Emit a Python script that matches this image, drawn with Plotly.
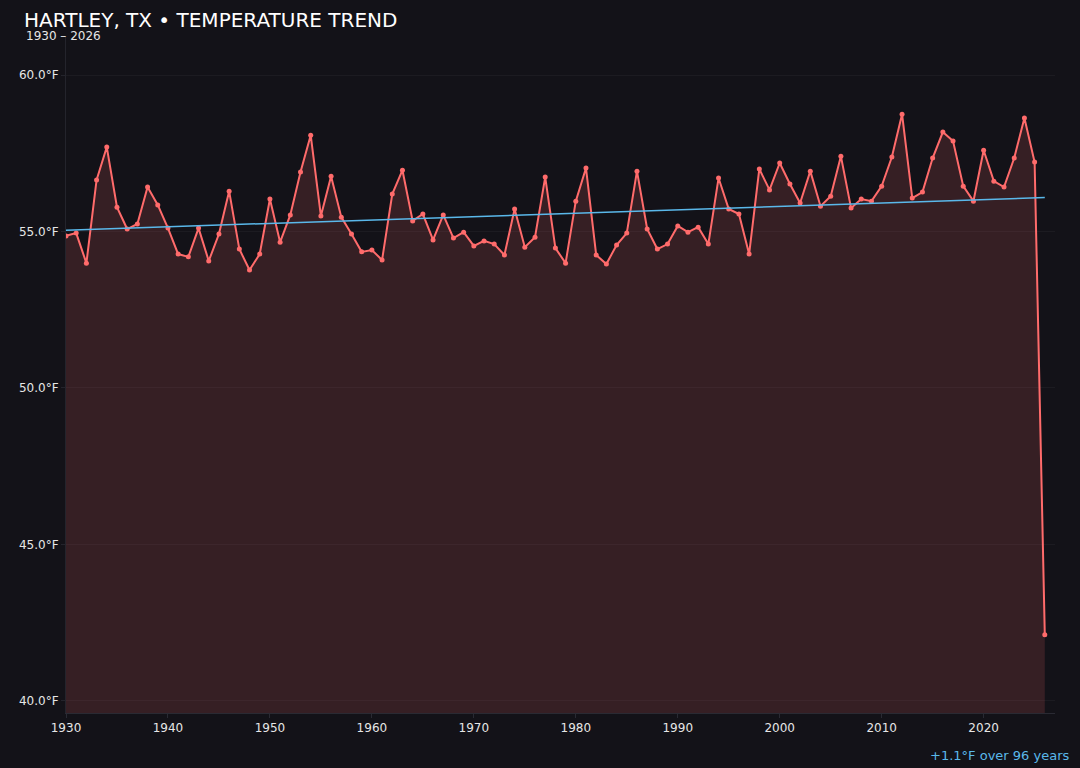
#!/usr/bin/python
#coding = utf-8

import numpy as np
import plotly.graph_objects as go

# annual mean temperature, Hartley TX (2026 is a partial year)
years = list(range(1930, 2027))
temps = [
    54.86, 54.95, 53.99, 56.65, 57.70, 55.78, 55.08, 55.24, 56.42, 55.85,
    55.11, 54.28, 54.19, 55.11, 54.06, 54.92, 56.29, 54.44, 53.77, 54.28,
    56.04, 54.66, 55.53, 56.90, 58.08, 55.50, 56.77, 55.46, 54.92, 54.35,
    54.41, 54.09, 56.20, 56.96, 55.34, 55.56, 54.73, 55.53, 54.79, 54.98,
    54.54, 54.70, 54.60, 54.25, 55.72, 54.50, 54.82, 56.74, 54.47, 53.99,
    55.97, 57.03, 54.25, 53.96, 54.57, 54.95, 56.93, 55.08, 54.44, 54.60,
    55.18, 54.98, 55.14, 54.60, 56.71, 55.72, 55.56, 54.28, 57.00, 56.33,
    57.19, 56.52, 55.91, 56.93, 55.81, 56.13, 57.41, 55.75, 56.04, 55.97,
    56.45, 57.38, 58.75, 56.07, 56.26, 57.35, 58.18, 57.89, 56.45, 55.97,
    57.60, 56.61, 56.42, 57.35, 58.63, 57.22, 42.11,
]
yTicks = [40, 45, 50, 55, 60]
xTicks = list(range(1930, 2030, 10))
trendLabel = '+1.1°F over 96 years'

# trend line from a linear fit
slope, icpt = np.polyfit(years, temps, 1)
trendX = [years[0], years[-1]]
trendY = [slope * x + icpt for x in trendX]

bg = '#131218'
fig = go.Figure()
fig.add_trace(go.Scatter(
    x=years, y=temps, mode='lines+markers', fill='tozeroy',
    fillcolor='rgba(255,107,107,0.15)',
    line=dict(color='#ff6b6b', width=2),
    marker=dict(size=5, color='#ff6b6b'),
    hoverinfo='skip', showlegend=False,
))
fig.add_trace(go.Scatter(
    x=trendX, y=trendY, mode='lines',
    line=dict(color='#5ab8ea', width=1.5),
    hoverinfo='skip', showlegend=False,
))
fig.update_layout(
    width=1080, height=768,
    paper_bgcolor=bg, plot_bgcolor=bg,
    font=dict(family='DejaVu Sans', color='#e6e6e6', size=12),
    margin=dict(l=66, r=25, t=36, b=55),
    title=dict(
        text='HARTLEY, TX • TEMPERATURE TREND',
        x=24 / 1080, xanchor='left', xref='container',
        y=1 - 20 / 768, yanchor='middle', yref='container',
        font=dict(size=20, color='#ffffff'),
    ),
    xaxis=dict(
        range=[1930, 2027], tickvals=xTicks, ticktext=[str(t) for t in xTicks],
        showgrid=False, zeroline=False,
        showline=True, linecolor='#2a2a33', linewidth=1,
        ticks='outside', ticklen=4, tickcolor='#2a2a33',
    ),
    yaxis=dict(
        range=[min(temps) - 2.5, max(temps) + 2.5],
        tickvals=yTicks, ticktext=['%.1f°F' % t for t in yTicks],
        showgrid=True, gridcolor='rgba(255,255,255,0.04)', zeroline=False,
        showline=True, linecolor='#24242c', linewidth=1,
        ticks='outside', ticklen=4, tickcolor='#24242c',
    ),
    annotations=[
        dict(text='%d – %d' % (years[0], years[-1]), xref='paper', yref='paper',
             x=0, y=1, xanchor='left', yanchor='middle', xshift=-42, yshift=0,
             showarrow=False, font=dict(size=12, color='#e6e6e6')),
        dict(text=trendLabel, xref='paper', yref='paper',
             x=1, y=0, xanchor='right', yanchor='middle', xshift=16, yshift=-42,
             showarrow=False, font=dict(size=13, color='#5ab8ea')),
    ],
)
# drop the page margin so the figure sits at the window corner
fig.write_html('out.html', config={'displayModeBar': False},
               post_script="document.body.style.margin='0';document.body.style.background='%s';" % bg)
